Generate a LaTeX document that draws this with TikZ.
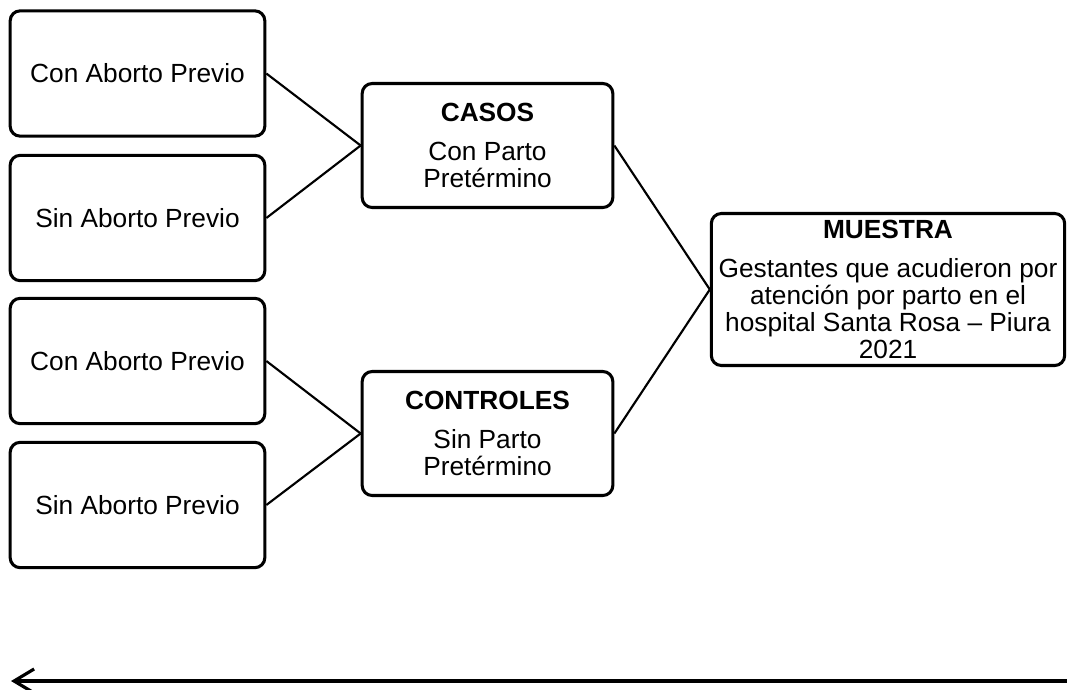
\documentclass[tikz,border=0pt]{standalone}
\usepackage{fontspec}
\setmainfont{Liberation Sans}
\usepackage{tikz}
\usetikzlibrary{arrows.meta}

\begin{document}
\begin{tikzpicture}[x=0.75pt,y=-0.75pt,
  caja/.style={draw,line width=2.3pt,rounded corners=7.5pt,align=center,
    font=\fontsize{19.7pt}{20.25pt}\selectfont,inner sep=0pt},
  previo/.style={caja,minimum width=191pt,minimum height=94pt},
  grupo/.style={caja,minimum width=188pt,minimum height=93pt},
  linea/.style={line width=1.6pt}]
\useasboundingbox (0,0) rectangle (1067,689);

% grupos de la izquierda
\node[previo] (cap) at (137.5,73.5) {Con Aborto Previo};
\node[previo] (sap) at (137.5,218) {Sin Aborto Previo};
\node[previo] (cap2) at (137.5,361) {Con Aborto Previo};
\node[previo] (sap2) at (137.5,505) {Sin Aborto Previo};

% casos y controles
\node[grupo] (casos) at (487.5,145.5) {\textbf{CASOS}\\[8.5pt]Con Parto\\Pretérmino};
\node[grupo] (controles) at (487.5,433.5) {\textbf{CONTROLES}\\[8.5pt]Sin Parto\\Pretérmino};

% muestra
\node[caja,minimum width=265pt,minimum height=114pt] (muestra) at (888,289.5)
  {\textbf{MUESTRA}\\[8.5pt]Gestantes que acudieron por\\atención por parto en el\\hospital Santa Rosa -- Piura\\2021};

\draw[linea] (cap.east) -- (casos.west);
\draw[linea] (sap.east) -- (casos.west);
\draw[linea] (cap2.east) -- (controles.west);
\draw[linea] (sap2.east) -- (controles.west);
\draw[linea] (casos.east) -- (muestra.west);
\draw[linea] (controles.east) -- (muestra.west);

% flecha del tiempo
\coordinate (fin) at (1070,681);
\coordinate (ini) at (11,681);
\draw[line width=2.4pt,-{Straight Barb[length=15pt,width=18pt]}] (fin) -- (ini);

\end{tikzpicture}
\end{document}
